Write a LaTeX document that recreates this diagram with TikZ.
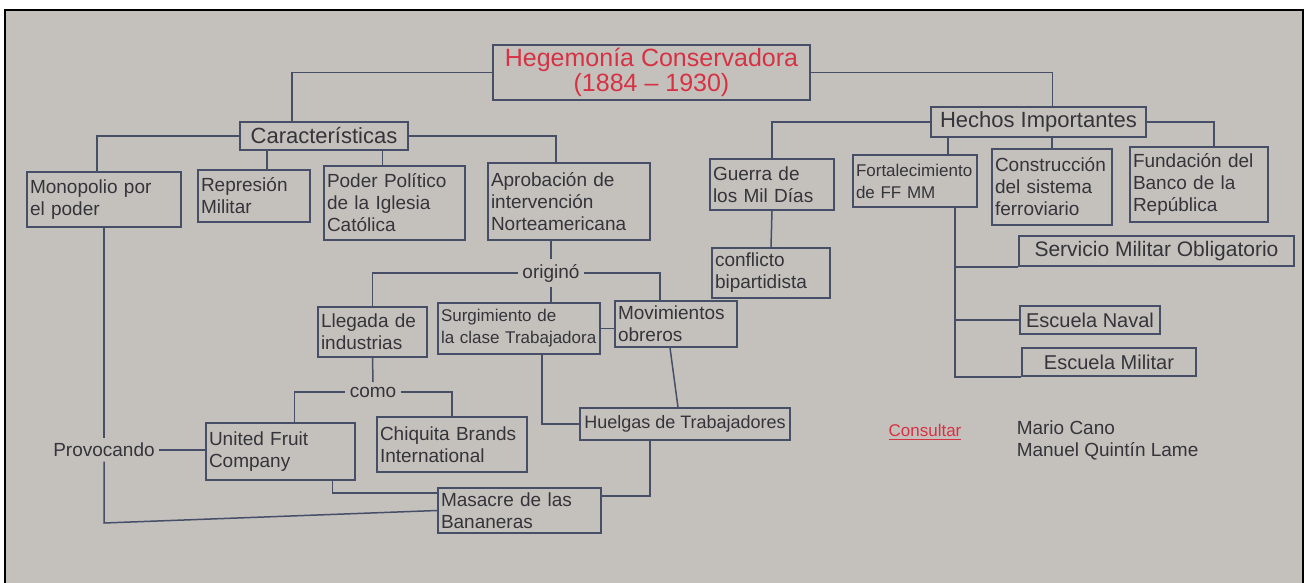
\documentclass[tikz,border=0pt]{standalone}
\usepackage{fontspec}
\setmainfont{Liberation Sans}
\usepackage{tikz}
\usetikzlibrary{positioning}
\definecolor{pizarra}{RGB}{196,193,189}
\definecolor{tinta}{RGB}{70,78,104}
\definecolor{texto}{RGB}{52,52,58}
\definecolor{rojo}{RGB}{214,50,68}

\begin{document}
\begin{tikzpicture}[x=0.5pt,y=-0.5pt,line width=0.75pt,color=tinta,
    caja/.style 2 args={draw=tinta,text=texto,text width=#1,minimum height=#2,align=left,inner sep=1.5pt,font=\fontsize{9.5}{11}\selectfont},
    cajita/.style 2 args={draw=tinta,text=texto,minimum width=#1,minimum height=#2,inner sep=1.5pt,font=\fontsize{11}{12}\selectfont},
    enlace/.style={text=texto,inner sep=2pt,font=\fontsize{9.5}{11}\selectfont}]
    \useasboundingbox (0,0) rectangle (1307,583);
    \fill[pizarra] (5,10) rectangle (1303,583);
    \draw[black,line width=1.2pt] (5,583) -- (5,10) -- (1303,10) -- (1303,583);

    % titulo y ramas
    \node [cajita={158.5pt}{25.5pt},text=rojo,align=center,font=\fontsize{12.5}{12.5}\selectfont] (hc) at (651.5,72.5) {Hegemonía Conservadora\\(1884 -- 1930)};
    \node [cajita={84pt}{14pt}]     (car)  at (324,136)     {Características};
    \node [cajita={107.5pt}{15pt}]  (hi)   at (1038.5,122)  {Hechos Importantes};

    % caracteristicas
    \node [caja={74pt}{27.5pt}]     (mon)  at (104,199.5)   {Monopolio por\\el poder};
    \node [caja={53pt}{26pt}]       (rep)  at (254,196)     {Represión\\Militar};
    \node [caja={67.5pt}{37pt}]     (pod)  at (394.5,203)   {Poder Político\\de la Iglesia\\Católica};
    \node [caja={78pt}{38.5pt}]     (apr)  at (569,201.5)   {Aprobación de\\intervención\\Norteamericana};

    % hechos importantes
    \node [caja={59pt}{25.5pt}]     (gmd)  at (772,184.5)   {Guerra de\\los Mil Días};
    \node [caja={59pt}{26pt},font=\fontsize{8.5}{11}\selectfont] (ffmm) at (915,181) {Fortalecimiento\\de FF MM};
    \node [caja={57pt}{38pt}]       (sf)   at (1052,187)    {Construcción\\del sistema\\ferroviario};
    \node [caja={66pt}{37.5pt}]     (br)   at (1199,184.5)  {Fundación del\\Banco de la\\República};
    \node [caja={56pt}{25pt}]       (cb)   at (771,273)     {conflicto\\bipartidista};
    \node [cajita={137.5pt}{15pt},font=\fontsize{10.5}{12}\selectfont] (smo) at (1156.5,251) {Servicio Militar Obligatorio};
    \node [cajita={70pt}{14pt},font=\fontsize{10}{12}\selectfont]      (en)  at (1090,320)   {Escuela Naval};
    \node [cajita={87pt}{14pt},font=\fontsize{10}{12}\selectfont]      (em)  at (1109,362)   {Escuela Militar};

    % consecuencias
    \node [enlace]                  (ori)  at (551,273)     {originó};
    \node [caja={51.5pt}{25pt}]     (li)   at (372.5,332)   {Llegada de\\industrias};
    \node [caja={78pt}{25.5pt},font=\fontsize{8.5}{11}\selectfont] (sct) at (519,328.5) {Surgimiento de\\la clase Trabajadora};
    \node [caja={58pt}{23pt}]       (mo)   at (676,324)     {Movimientos\\obreros};
    \node [enlace]                  (como) at (373,392)     {como};
    \node [caja={71.5pt}{28.5pt}]   (ufc)  at (280.5,451.5) {United Fruit\\Company};
    \node [caja={72pt}{27.5pt}]     (cbi)  at (452,444.5)   {Chiquita Brands\\International};
    \node [cajita={105pt}{16pt},font=\fontsize{9}{11}\selectfont] (ht) at (685,424) {Huelgas de Trabajadores};
    \node [caja={78.5pt}{22.5pt}]   (mb)   at (519.5,510.5) {Masacre de las\\Bananeras};
    \node [enlace]                  (pro)  at (104,450)     {Provocando};
    \coordinate (esq) at (104,523);

    \node [enlace,text=rojo,font=\fontsize{8.5}{10}\selectfont] (con) at (925,432) {\underline{Consultar}};
    \node [enlace,anchor=west,align=left] (aut) at (1012,440) {Mario Cano\\Manuel Quintín Lame};

    % conexiones
    \draw (hc.west) -| ([xshift=-16pt]car.north);
    \draw (hc.east) -| ([xshift=7pt]hi.north);
    \draw (car.west) -| ([xshift=-3.5pt]mon.north);
    \draw (car.east) -| ([xshift=-6.5pt]apr.north);
    \draw ([xshift=6.5pt]rep.north) |- (car.south);
    \draw ([xshift=-6pt]pod.north) |- (car.south);
    \draw (hi.west) -| (gmd.north);
    \draw ([xshift=16.5pt]ffmm.north) |- (hi.south);
    \draw (sf.north) |- (hi.south);
    \draw (hi.east) -| ([xshift=7.5pt]br.north);
    \draw (gmd.south) -- (cb.north);
    \draw ([xshift=20pt]ffmm.south) |- (smo.south west);
    \draw ([xshift=20pt]ffmm.south) |- (en.west);
    \draw ([xshift=20pt]ffmm.south) |- (em.south west);
    \draw (ori.north) -- (ori.north |- apr.south);
    \draw (ori.south) -- (ori.south |- sct.north);
    \draw (ori.west) -| (li.north);
    \draw (ori.east) -| ([xshift=-8pt]mo.north);
    \draw (sct.east) -- (sct.east -| mo.west);
    \draw (li.south) -- (como.north);
    \draw (como.west) -| ([xshift=7pt]ufc.north);
    \draw (como.east) -| (cbi.north);
    \draw (mon.south) -- (pro.north);
    \draw (pro.east) -- (pro.east -| ufc.west);
    \draw (pro.south) -- (esq) -- (mb.west);
    \draw ([xshift=26pt]ufc.south) |- (mb.168);
    \draw ([xshift=11.5pt]sct.south) |- (ht.west);
    \draw ([xshift=-3pt]mo.south) -- ([xshift=-3.5pt]ht.north);
    \draw ([xshift=-17.5pt]ht.south) |- (mb.10);
\end{tikzpicture}
\end{document}
